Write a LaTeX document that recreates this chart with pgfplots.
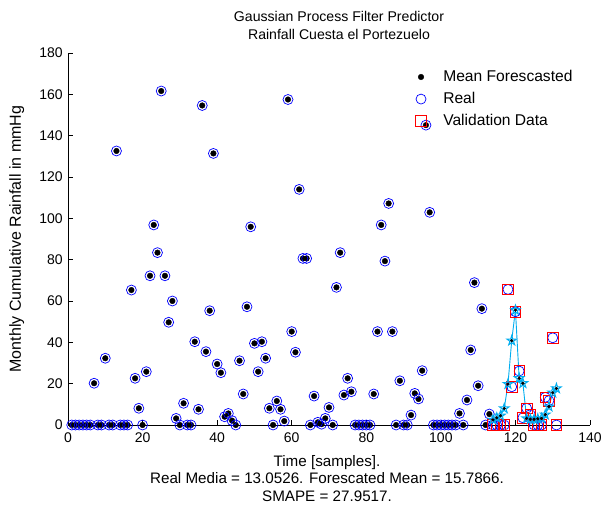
\documentclass[border=0pt]{standalone}
\usepackage{fontspec}
\setmainfont{Liberation Sans}
\usepackage{pgfplots}
\pgfplotsset{compat=1.18}
\pgfdeclareplotmark{pentagram}{%
  \pgfpathmoveto{\pgfpointpolar{90}{\pgfplotmarksize}}%
  \pgfpathlineto{\pgfpointpolar{126}{0.382*\pgfplotmarksize}}%
  \pgfpathlineto{\pgfpointpolar{162}{\pgfplotmarksize}}%
  \pgfpathlineto{\pgfpointpolar{198}{0.382*\pgfplotmarksize}}%
  \pgfpathlineto{\pgfpointpolar{234}{\pgfplotmarksize}}%
  \pgfpathlineto{\pgfpointpolar{270}{0.382*\pgfplotmarksize}}%
  \pgfpathlineto{\pgfpointpolar{306}{\pgfplotmarksize}}%
  \pgfpathlineto{\pgfpointpolar{342}{0.382*\pgfplotmarksize}}%
  \pgfpathlineto{\pgfpointpolar{18}{\pgfplotmarksize}}%
  \pgfpathlineto{\pgfpointpolar{54}{0.382*\pgfplotmarksize}}%
  \pgfpathclose\pgfusepathqstroke}
\newcommand{\fs}{\fontsize{15.2bp}{17.5bp}\selectfont}
\newcommand{\fsti}{\fontsize{14.1bp}{18bp}\selectfont}
\newcommand{\fsy}{\fontsize{16bp}{18bp}\selectfont}
\newcommand{\fsl}{\fontsize{15.6bp}{18bp}\selectfont}
\newcommand{\fst}{\fontsize{14bp}{17bp}\selectfont}
\begin{document}
\fs
\begin{tikzpicture}
\useasboundingbox (0,0) rectangle (612bp,508bp);
\begin{axis}[
  at={(68bp,83bp)}, anchor=south west,
  scale only axis, width=522bp, height=372bp,
  xmin=0, xmax=140, ymin=0, ymax=180,
  axis x line=bottom, axis y line=left,
  axis line style={-, black, line width=0.6bp},
  xtick={0,20,...,140}, ytick={0,20,...,180},
  tick align=inside, major tick length=5bp,
  tick style={black, line width=0.6bp},
  ticklabel style={font=\fst},
  xticklabel style={yshift=-2bp},
  /pgf/number format/assume math mode=true,
  clip=false,
  title={Gaussian Process Filter Predictor\\Rainfall Cuesta el Portezuelo},
  title style={align=center, font=\fsti, at={(axis description cs:0.5,1)}, anchor=south, yshift=2bp, xshift=10bp},
  xlabel={Time [samples].\\Real Media = 13.0526. Forescated Mean = 15.7866.\\SMAPE = 27.9517.},
  xlabel style={align=center, font=\fs, at={(axis description cs:0.5,0)}, anchor=north, yshift=-25bp, xshift=-2bp},
  ylabel={Monthly Cumulative Rainfall in mmHg},
  ylabel style={font=\fsy, at={(axis description cs:-0.074,0.5)}, anchor=south},
  legend style={at={(axis description cs:0.66,0.965)}, anchor=north west, draw=none, fill=none,
    font=\fsl, row sep=4.5bp, column sep=15bp, legend cell align=left},
]
% Mean forecasted (training part)
\addplot[only marks, mark=*, mark size=2.8bp, black] coordinates {
(1,0)(2,0)(3,0)(4,0)(5,0)(6,0)(7,20.2)(8,0)(9,0)(10,32.3)
(11,0)(12,0)(13,132.6)(14,0)(15,0)(16,0)(17,65.3)(18,22.6)(19,8.1)(20,0)
(21,25.8)(22,72.2)(23,96.8)(24,83.4)(25,161.6)(26,72.2)(27,49.7)(28,60.0)(29,3.2)(30,0)
(31,10.5)(32,0)(33,0)(34,40.3)(35,7.6)(36,154.6)(37,35.5)(38,55.3)(39,131.4)(40,29.5)
(41,25.3)(42,4.0)(43,5.6)(44,2.1)(45,0)(46,31.1)(47,15.0)(48,57.2)(49,95.9)(50,39.5)
(51,25.8)(52,40.3)(53,32.3)(54,8.1)(55,0)(56,11.6)(57,7.6)(58,1.9)(59,157.5)(60,45.2)
(61,35.2)(62,114.0)(63,80.6)(64,80.6)(65,0)(66,14.0)(67,1.3)(68,0.4)(69,3.2)(70,8.5)
(71,0)(72,66.6)(73,83.4)(74,14.5)(75,22.6)(76,16.1)(77,0)(78,0)(79,0)(80,0)
(81,0)(82,15.0)(83,45.2)(84,96.8)(85,79.3)(86,107.2)(87,45.2)(88,0)(89,21.4)(90,0)
(91,0)(92,4.8)(93,15.3)(94,12.6)(95,26.3)(96,145.1)(97,102.9)(98,0)(99,0)(100,0)
(101,0)(102,0)(103,0)(104,0)(105,5.6)(106,0)(107,12.1)(108,36.3)(109,68.9)(110,19.0)
(111,56.3)(112,0)(113,5.3)
};
\addlegendentry{Mean Forescasted}
% Real
\addplot[only marks, mark=o, mark size=5bp, blue, line width=0.7bp] coordinates {
(1,0)(2,0)(3,0)(4,0)(5,0)(6,0)(7,20.2)(8,0)(9,0)(10,32.3)
(11,0)(12,0)(13,132.6)(14,0)(15,0)(16,0)(17,65.3)(18,22.6)(19,8.1)(20,0)
(21,25.8)(22,72.2)(23,96.8)(24,83.4)(25,161.6)(26,72.2)(27,49.7)(28,60.0)(29,3.2)(30,0)
(31,10.5)(32,0)(33,0)(34,40.3)(35,7.6)(36,154.6)(37,35.5)(38,55.3)(39,131.4)(40,29.5)
(41,25.3)(42,4.0)(43,5.6)(44,2.1)(45,0)(46,31.1)(47,15.0)(48,57.2)(49,95.9)(50,39.5)
(51,25.8)(52,40.3)(53,32.3)(54,8.1)(55,0)(56,11.6)(57,7.6)(58,1.9)(59,157.5)(60,45.2)
(61,35.2)(62,114.0)(63,80.6)(64,80.6)(65,0)(66,14.0)(67,1.3)(68,0.4)(69,3.2)(70,8.5)
(71,0)(72,66.6)(73,83.4)(74,14.5)(75,22.6)(76,16.1)(77,0)(78,0)(79,0)(80,0)
(81,0)(82,15.0)(83,45.2)(84,96.8)(85,79.3)(86,107.2)(87,45.2)(88,0)(89,21.4)(90,0)
(91,0)(92,4.8)(93,15.3)(94,12.6)(95,26.3)(96,145.1)(97,102.9)(98,0)(99,0)(100,0)
(101,0)(102,0)(103,0)(104,0)(105,5.6)(106,0)(107,12.1)(108,36.3)(109,68.9)(110,19.0)
(111,56.3)(112,0)(113,5.3)
(114,0)(115,0)(116,0)(117,0)(118,65.6)(119,18.5)(120,54.8)(121,26.1)(122,3.5)(123,8.1)
(124,5.0)(125,0)(126,0)(127,0)(128,13.4)(129,11.8)(130,42.2)(131,0)
};
\addlegendentry{Real}
% Validation data
\addplot[only marks, mark=square, mark size=5.3bp, red, line width=0.7bp] coordinates {
(114,0)(115,0)(116,0)(117,0)(118,65.6)(119,18.5)(120,54.8)(121,26.1)(122,3.5)(123,8.1)
(124,5.0)(125,0)(126,0)(127,0)(128,13.4)(129,11.8)(130,42.2)(131,0)
};
\addlegendentry{Validation Data}
% Forecast in validation period
\addplot[forget plot, cyan, line width=0.9bp, mark=pentagram, mark size=5bp, mark options={cyan, line width=1bp}] coordinates {
(114,2.5)(115,3.5)(116,4.5)(117,8.0)(118,19.8)(119,40.8)(120,55.6)(121,22.6)(122,20.2)(123,3.2)
(124,2.8)(125,2.8)(126,3.0)(127,3.2)(128,5.0)(129,8.9)(130,15.6)(131,17.7)
};
\addplot[forget plot, only marks, mark=*, mark size=1.4bp, black] coordinates {
(114,2.5)(115,3.5)(116,4.5)(117,8.0)(118,19.8)(119,40.8)(120,55.6)(121,22.6)(122,20.2)(123,3.2)
(124,2.8)(125,2.8)(126,3.0)(127,3.2)(128,5.0)(129,8.9)(130,15.6)(131,17.7)
};
\end{axis}
\end{tikzpicture}
\end{document}
